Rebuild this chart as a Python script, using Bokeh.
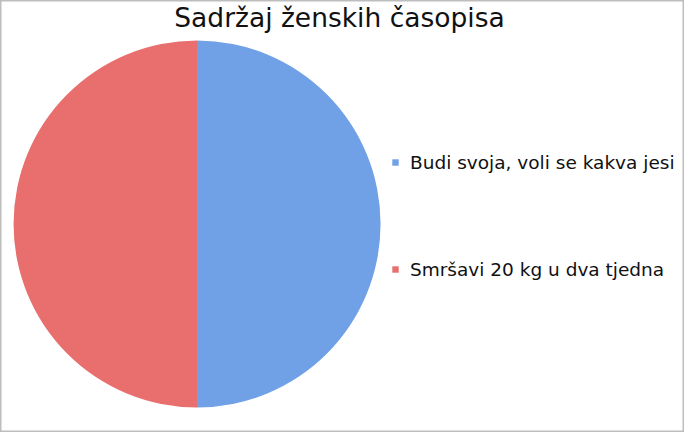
import math
from bokeh.plotting import figure
from bokeh.models import ColumnDataSource, Legend, LegendItem, Range1d
from bokeh.core.properties import value
from bokeh.embed import file_html
from bokeh.resources import INLINE

# ---- data ----
title_text = "Sadržaj ženskih časopisa"
categories = ["Budi svoja, voli se kakva jesi", "Smršavi 20 kg u dva tjedna"]
values = [50, 50]
colors = ["#70a1e6", "#e96e6e"]

# ---- layout (pixels) ----
W, H = 684, 432
cx, cy, r = 196.5, H - 223.5, 183.5

total = float(sum(values))
starts, ends = [], []
acc = 0.0
for v in values:
    a0 = math.pi / 2 - 2 * math.pi * acc / total
    acc += v
    a1 = math.pi / 2 - 2 * math.pi * acc / total
    starts.append(a0)
    ends.append(a1)

src = ColumnDataSource(dict(cat=categories, val=values, color=colors,
                            start=starts, end=ends,
                            x=[cx] * len(values), y=[cy] * len(values)))

p = figure(width=W, height=H, output_backend="svg", toolbar_location=None,
           x_range=Range1d(0, W), y_range=Range1d(0, H), min_border=0,
           outline_line_color="#bdbdbd", outline_line_width=2)
p.axis.visible = False
p.grid.visible = False
p.background_fill_color = "white"
p.border_fill_color = "white"

wr = p.wedge(x="x", y="y", radius=r, start_angle="start", end_angle="end",
             direction="clock", fill_color="color", line_color=None, source=src)

p.text(x=[339], y=[H - 17], text=[title_text], text_align="center",
       text_baseline="alphabetic", text_font=value("DejaVu Sans"),
       text_font_size="26.5px", text_color="#111111")

items = [LegendItem(label=c, renderers=[wr], index=i) for i, c in enumerate(categories)]
legend = Legend(items=items, location=(391, 152), orientation="vertical",
                glyph_width=8, glyph_height=8, label_height=22, spacing=85,
                label_standoff=11, padding=0, margin=0,
                border_line_color=None, background_fill_alpha=0,
                label_text_font="DejaVu Sans", label_text_font_size="18.5px",
                label_text_color="#111111")
p.add_layout(legend)

open("out.html", "w").write(file_html(p, INLINE))
